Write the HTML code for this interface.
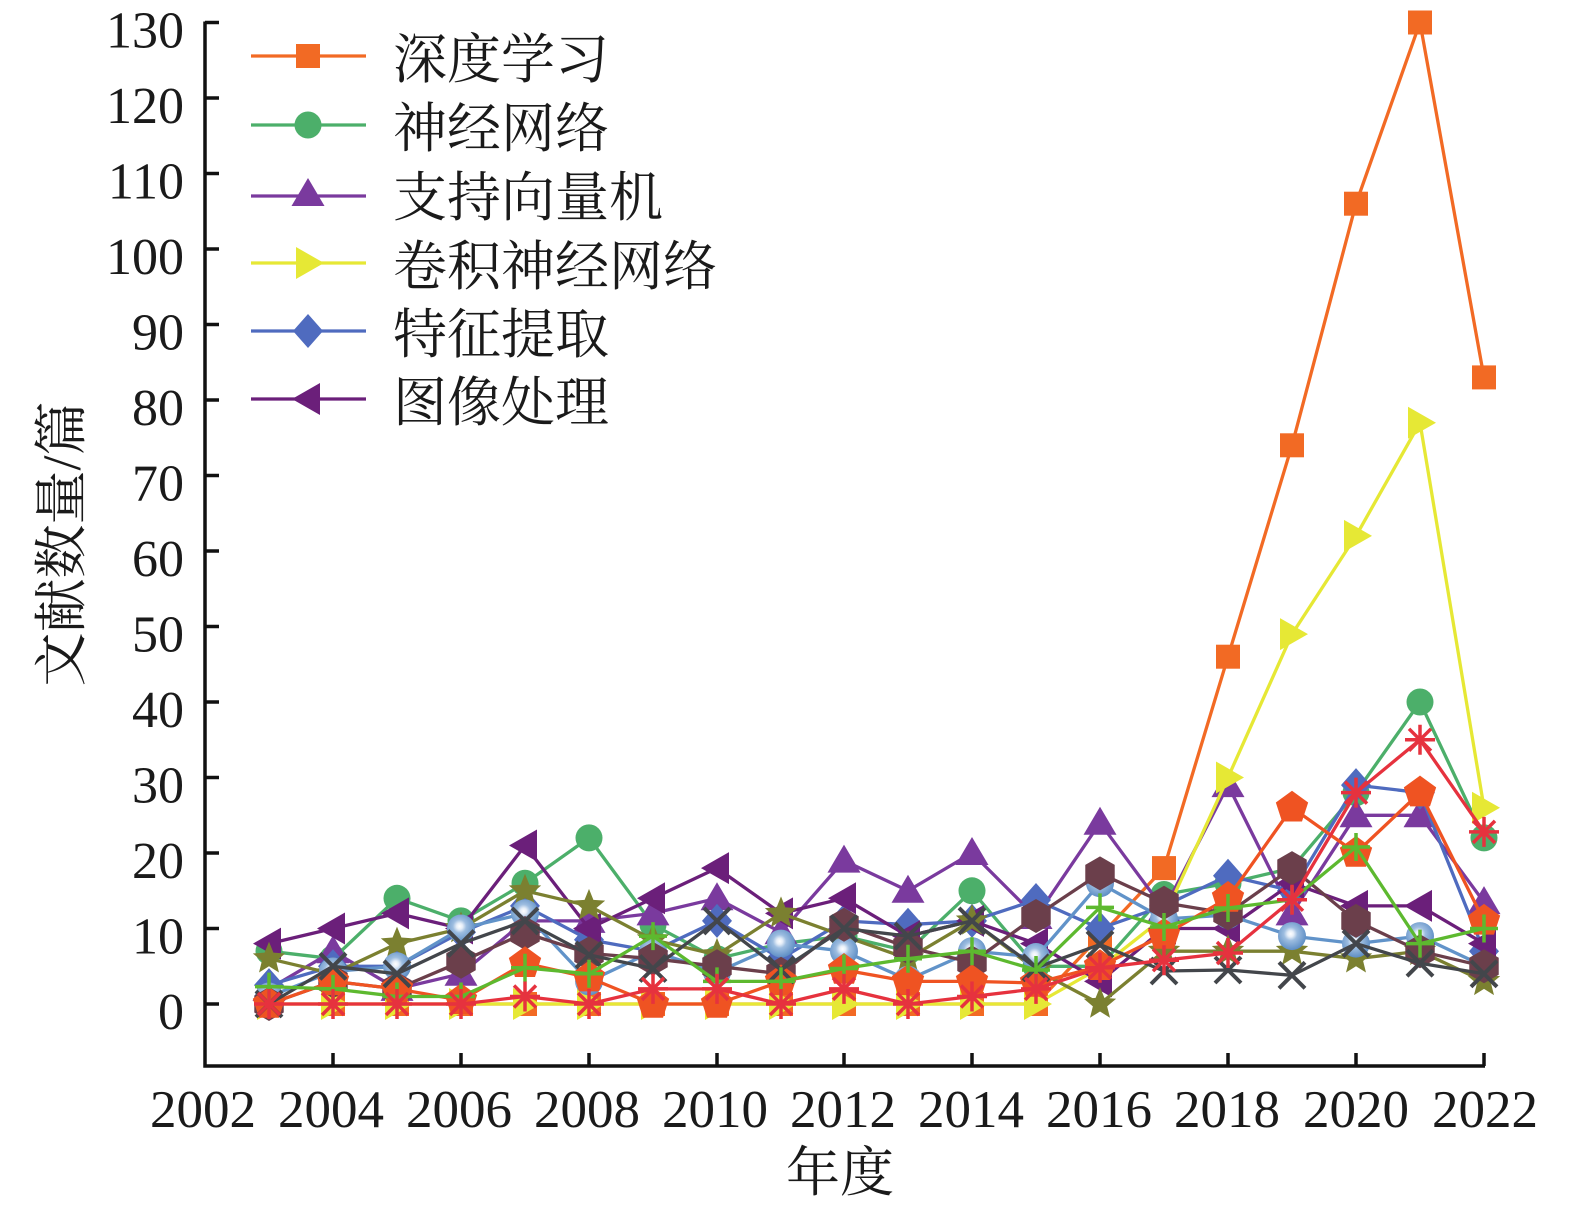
<!DOCTYPE html>
<html>
<head>
<meta charset="utf-8">
<style>
html,body{margin:0;padding:0;background:#fff;}
svg{display:block;}
.tk{font-family:"Liberation Serif","Noto Serif CJK SC",serif;font-size:52px;fill:#1a1a1a;}
.cj{font-family:"Liberation Serif","Noto Serif CJK SC","Noto Sans CJK SC",serif;font-size:54px;fill:#1a1a1a;}
</style>
</head>
<body>
<svg width="1575" height="1212" viewBox="0 0 1575 1212" xmlns="http://www.w3.org/2000/svg">
<defs>
<radialGradient id="gSph" cx="0.45" cy="0.42" r="0.6">
<stop offset="0" stop-color="#ffffff"/>
<stop offset="0.18" stop-color="#e6eef8"/>
<stop offset="0.4" stop-color="#9dbde0"/>
<stop offset="1" stop-color="#5a8bc3"/>
</radialGradient>
<marker id="mSq" markerUnits="userSpaceOnUse" viewBox="-20 -20 40 40" markerWidth="40" markerHeight="40" refX="0" refY="0" overflow="visible">
<rect x="-12" y="-12" width="24" height="24" fill="#f26a24"/></marker>
<marker id="mCi" markerUnits="userSpaceOnUse" viewBox="-20 -20 40 40" markerWidth="40" markerHeight="40" refX="0" refY="0" overflow="visible">
<circle r="13.5" fill="#4caf6a"/></marker>
<marker id="mTu" markerUnits="userSpaceOnUse" viewBox="-20 -20 40 40" markerWidth="40" markerHeight="40" refX="0" refY="0" overflow="visible">
<polygon points="0,-16 16.5,12 -16.5,12" fill="#7a3a9e"/></marker>
<marker id="mTr" markerUnits="userSpaceOnUse" viewBox="-20 -20 40 40" markerWidth="40" markerHeight="40" refX="0" refY="0" overflow="visible">
<polygon points="-12,-16 16,0 -12,16" fill="#e6e835"/></marker>
<marker id="mDi" markerUnits="userSpaceOnUse" viewBox="-20 -20 40 40" markerWidth="40" markerHeight="40" refX="0" refY="0" overflow="visible">
<polygon points="0,-17 15,0 0,17 -15,0" fill="#4f6bbf"/></marker>
<marker id="mTl" markerUnits="userSpaceOnUse" viewBox="-20 -20 40 40" markerWidth="40" markerHeight="40" refX="0" refY="0" overflow="visible">
<polygon points="12,-16 -16,0 12,16" fill="#6b1f7a"/></marker>
<marker id="mSt" markerUnits="userSpaceOnUse" viewBox="-20 -20 40 40" markerWidth="40" markerHeight="40" refX="0" refY="0" overflow="visible">
<polygon points="0,-17 4.41,-6.07 16.17,-5.25 7.13,2.32 9.99,13.75 0,7.5 -9.99,13.75 -7.13,2.32 -16.17,-5.25 -4.41,-6.07" fill="#7b8030"/></marker>
<marker id="mSp" markerUnits="userSpaceOnUse" viewBox="-20 -20 40 40" markerWidth="40" markerHeight="40" refX="0" refY="0" overflow="visible">
<circle r="14" fill="url(#gSph)"/></marker>
<marker id="mHx" markerUnits="userSpaceOnUse" viewBox="-20 -20 40 40" markerWidth="40" markerHeight="40" refX="0" refY="0" overflow="visible">
<polygon points="0,-17 14.72,-8.5 14.72,8.5 0,17 -14.72,8.5 -14.72,-8.5" fill="#6b3f4b"/></marker>
<marker id="mPt" markerUnits="userSpaceOnUse" viewBox="-20 -20 40 40" markerWidth="40" markerHeight="40" refX="0" refY="0" overflow="visible">
<polygon points="0,-17 16.17,-5.25 9.99,13.75 -9.99,13.75 -16.17,-5.25" fill="#ef5322"/></marker>
<marker id="mX" markerUnits="userSpaceOnUse" viewBox="-20 -20 40 40" markerWidth="40" markerHeight="40" refX="0" refY="0" overflow="visible">
<path d="M-13,-13L13,13M-13,13L13,-13" stroke="#43464b" stroke-width="4" fill="none"/></marker>
<marker id="mPl" markerUnits="userSpaceOnUse" viewBox="-20 -20 40 40" markerWidth="40" markerHeight="40" refX="0" refY="0" overflow="visible">
<path d="M-14,0L14,0M0,-14L0,14" stroke="#5db92f" stroke-width="3.5" fill="none"/></marker>
<marker id="mAs" markerUnits="userSpaceOnUse" viewBox="-20 -20 40 40" markerWidth="40" markerHeight="40" refX="0" refY="0" overflow="visible">
<path d="M-15,0L15,0M0,-15L0,15M-11,-11L11,11M-11,11L11,-11" stroke="#e6323e" stroke-width="3.5" fill="none"/></marker>
</defs>

<rect width="1575" height="1212" fill="#fff"/>

<!-- axes -->
<path d="M205,21.5 V1066 H1485" fill="none" stroke="#111" stroke-width="3.5"/>
<g stroke="#111" stroke-width="3.5">
<line x1="205" y1="22.5" x2="219" y2="22.5"/>
<line x1="205" y1="98" x2="219" y2="98"/>
<line x1="205" y1="173.5" x2="219" y2="173.5"/>
<line x1="205" y1="249" x2="219" y2="249"/>
<line x1="205" y1="324.5" x2="219" y2="324.5"/>
<line x1="205" y1="400" x2="219" y2="400"/>
<line x1="205" y1="475.5" x2="219" y2="475.5"/>
<line x1="205" y1="551" x2="219" y2="551"/>
<line x1="205" y1="626.5" x2="219" y2="626.5"/>
<line x1="205" y1="702" x2="219" y2="702"/>
<line x1="205" y1="777.5" x2="219" y2="777.5"/>
<line x1="205" y1="853" x2="219" y2="853"/>
<line x1="205" y1="928.5" x2="219" y2="928.5"/>
<line x1="205" y1="1004" x2="219" y2="1004"/>
<line x1="333" y1="1066" x2="333" y2="1053"/>
<line x1="461" y1="1066" x2="461" y2="1053"/>
<line x1="589" y1="1066" x2="589" y2="1053"/>
<line x1="717" y1="1066" x2="717" y2="1053"/>
<line x1="844" y1="1066" x2="844" y2="1053"/>
<line x1="972" y1="1066" x2="972" y2="1053"/>
<line x1="1100" y1="1066" x2="1100" y2="1053"/>
<line x1="1228" y1="1066" x2="1228" y2="1053"/>
<line x1="1356" y1="1066" x2="1356" y2="1053"/>
<line x1="1484" y1="1066" x2="1484" y2="1053"/>
</g>

<!-- y tick labels -->
<g class="tk" text-anchor="end">
<text x="184" y="47.5">130</text>
<text x="184" y="123">120</text>
<text x="184" y="198.5">110</text>
<text x="184" y="274">100</text>
<text x="184" y="349.5">90</text>
<text x="184" y="425">80</text>
<text x="184" y="500.5">70</text>
<text x="184" y="576">60</text>
<text x="184" y="651.5">50</text>
<text x="184" y="727">40</text>
<text x="184" y="802.5">30</text>
<text x="184" y="878">20</text>
<text x="184" y="953.5">10</text>
<text x="184" y="1029">0</text>
</g>

<!-- x tick labels -->
<g class="tk" text-anchor="middle" style="font-size:53px">
<text x="203" y="1127">2002</text>
<text x="331" y="1127">2004</text>
<text x="459" y="1127">2006</text>
<text x="587" y="1127">2008</text>
<text x="715" y="1127">2010</text>
<text x="843" y="1127">2012</text>
<text x="971" y="1127">2014</text>
<text x="1099" y="1127">2016</text>
<text x="1227" y="1127">2018</text>
<text x="1356" y="1127">2020</text>
<text x="1485" y="1127">2022</text>
</g>

<!-- axis titles -->
<text class="cj" x="840" y="1191" text-anchor="middle">年度</text>
<text class="cj" transform="translate(80,544) rotate(-90)" text-anchor="middle">文献数量/篇</text>

<!-- series -->
<g fill="none" stroke-width="3.3" stroke-linejoin="round">
<polyline stroke="#f26a24" marker-start="url(#mSq)" marker-mid="url(#mSq)" marker-end="url(#mSq)"
points="269,1004 333,1004 397,1004 461,1004 525,1004 589,1004 653,1004 717,1004 781,1004 844,1004 908,1004 972,1004 1036,1004 1100,936.1 1164,868.1 1228,656.7 1292,445.3 1356,203.7 1420,22.5 1484,377.4"/>
<polyline stroke="#4caf6a" marker-start="url(#mCi)" marker-mid="url(#mCi)" marker-end="url(#mCi)"
points="269,951.2 333,958.7 397,898.3 461,920.9 525,883.2 589,837.9 653,924.7 717,958.7 781,943.6 844,936.1 908,951.2 972,890.8 1036,966.3 1100,966.3 1164,894.5 1228,883.2 1292,868.1 1356,792.6 1420,702 1484,837.9"/>
<polyline stroke="#7a3a9e" marker-start="url(#mTu)" marker-mid="url(#mTu)" marker-end="url(#mTu)"
points="269,988.9 333,951.2 397,988.9 461,973.8 525,920.9 589,920.9 653,913.4 717,898.3 781,932.3 844,860.6 908,890.8 972,853 1036,917 1100,822.8 1164,909.6 1228,785.1 1292,913.4 1356,815.3 1420,815.3 1484,902.1"/>
<polyline stroke="#e6e835" marker-start="url(#mTr)" marker-mid="url(#mTr)" marker-end="url(#mTr)"
points="269,1004 333,1004 397,1004 461,1004 525,1004 589,1004 653,1004 717,1004 781,1004 844,1004 908,1004 972,1004 1036,1004 1100,967.8 1164,917.2 1228,777.5 1292,634.1 1356,535.9 1420,422.7 1484,807.7"/>
<polyline stroke="#4f6bbf" marker-start="url(#mDi)" marker-mid="url(#mDi)" marker-end="url(#mDi)"
points="269,985.1 333,966.3 397,966.3 461,932.3 525,905.9 589,939.8 653,951.2 717,920.9 781,958.7 844,920.9 908,924.7 972,920.9 1036,900 1100,928.5 1164,905.9 1228,875.7 1292,890.8 1356,785.1 1420,792.6 1484,951.2"/>
<polyline stroke="#6b1f7a" marker-start="url(#mTl)" marker-mid="url(#mTl)" marker-end="url(#mTl)"
points="269,943.6 333,928.5 397,913.4 461,928.5 525,845.5 589,928.5 653,898.3 717,868.1 781,913.4 844,898.3 908,936.1 972,920.9 1036,943.6 1100,981.4 1164,928.5 1228,928.5 1292,883.2 1356,905.9 1420,905.9 1484,943.6"/>
<polyline stroke="#7b8030" marker-start="url(#mSt)" marker-mid="url(#mSt)" marker-end="url(#mSt)"
points="269,958.7 333,973.8 397,943.6 461,928.5 525,890.8 589,905.9 653,939.8 717,954.9 781,913.4 844,936.1 908,958.7 972,920.9 1036,970 1100,1004 1164,951.2 1228,951.2 1292,951.2 1356,958.7 1420,951.2 1484,981.4"/>
<polyline stroke="#6193c9" marker-start="url(#mSp)" marker-mid="url(#mSp)" marker-end="url(#mSp)"
points="269,996.5 333,971.5 397,966.3 461,928.5 525,913.4 589,981.4 653,951.2 717,972.3 781,943.6 844,951.2 908,979.8 972,951.2 1036,957 1100,883.2 1164,919 1228,915 1292,936.1 1356,943.6 1420,936.1 1484,966.3"/>
<polyline stroke="#6b3f4b" marker-start="url(#mHx)" marker-mid="url(#mHx)" marker-end="url(#mHx)"
points="269,1004 333,981.4 397,988.9 461,961.7 525,933 589,953.4 653,958.7 717,966.3 781,973.8 844,924.7 908,947.4 972,962.5 1036,916 1100,873.4 1164,902.8 1228,913.4 1292,868.1 1356,920.9 1420,951.2 1484,966.3"/>
<polyline stroke="#ef5322" marker-start="url(#mPt)" marker-mid="url(#mPt)" marker-end="url(#mPt)"
points="269,1004 333,981.4 397,988.9 461,1000.2 525,963.2 589,977.6 653,1004 717,1004 781,981.4 844,970 908,981.4 972,981.4 1036,983 1100,966.3 1164,935 1228,898 1292,807.7 1356,853 1420,792.6 1484,920.9"/>
<polyline stroke="#43464b" marker-start="url(#mX)" marker-mid="url(#mX)" marker-end="url(#mX)"
points="269,1004 333,966.3 397,973.8 461,943.6 525,920.9 589,954.9 653,968.5 717,920.9 781,970 844,928.5 908,936.1 972,920.9 1036,967.8 1100,944.5 1164,971 1228,970 1292,975.3 1356,943.6 1420,963.2 1484,973.8"/>
<polyline stroke="#5db92f" marker-start="url(#mPl)" marker-mid="url(#mPl)" marker-end="url(#mPl)"
points="269,986.6 333,988.9 397,996.5 461,996.5 525,967.8 589,973.8 653,936.1 717,981.4 781,981.4 844,968.5 908,958.7 972,951.2 1036,970 1100,907.4 1164,927 1228,908 1292,899.8 1356,847 1420,943.6 1484,928.5"/>
<polyline stroke="#e6323e" marker-start="url(#mAs)" marker-mid="url(#mAs)" marker-end="url(#mAs)"
points="269,1004 333,1004 397,1004 461,1004 525,996.5 589,1004 653,988.9 717,988.9 781,1004 844,988.9 908,1004 972,996.5 1036,988.9 1100,967.8 1164,960.2 1228,953 1292,899.8 1356,792.6 1420,739.8 1484,831.9"/>
</g>

<!-- legend -->
<g fill="none" stroke-width="3.3">
<line x1="251" y1="56" x2="366" y2="56" stroke="#f26a24"/>
<line x1="251" y1="125" x2="366" y2="125" stroke="#4caf6a"/>
<line x1="251" y1="196" x2="366" y2="196" stroke="#7a3a9e"/>
<line x1="251" y1="263" x2="366" y2="263" stroke="#e6e835"/>
<line x1="251" y1="331" x2="366" y2="331" stroke="#4f6bbf"/>
<line x1="251" y1="399" x2="366" y2="399" stroke="#6b1f7a"/>
</g>
<rect x="296" y="44" width="24" height="24" fill="#f26a24"/>
<circle cx="308" cy="125" r="13.5" fill="#4caf6a"/>
<polygon points="308,178 324.5,206 291.5,206" fill="#7a3a9e"/>
<polygon points="296,247 324,263 296,279" fill="#e6e835"/>
<polygon points="308,314 323,331 308,348 293,331" fill="#4f6bbf"/>
<polygon points="320,383 292,399 320,415" fill="#6b1f7a"/>
<g class="cj">
<text x="393" y="78">深度学习</text>
<text x="393" y="147">神经网络</text>
<text x="393" y="216">支持向量机</text>
<text x="393" y="285">卷积神经网络</text>
<text x="393" y="353">特征提取</text>
<text x="393" y="421">图像处理</text>
</g>
</svg>
</body>
</html>
